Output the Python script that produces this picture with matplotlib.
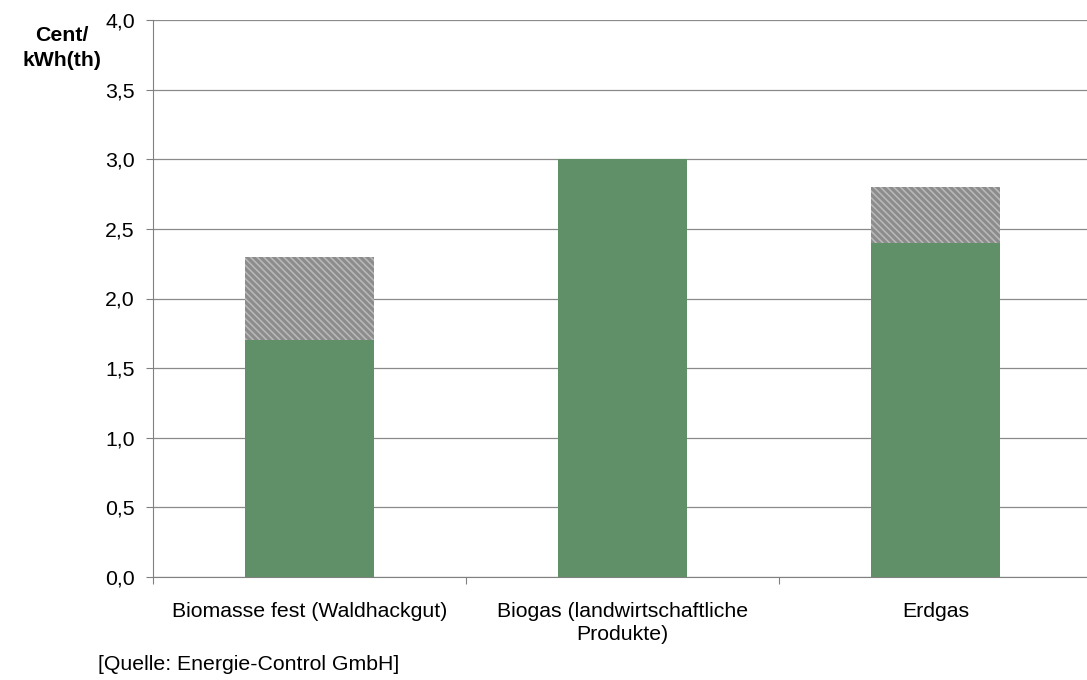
import matplotlib
matplotlib.use("Agg")
import matplotlib.pyplot as plt
import numpy as np

plt.rcParams["font.family"] = ["Liberation Sans", "DejaVu Sans"]
plt.rcParams["hatch.linewidth"] = 1.2

categories = ["Biomasse fest (Waldhackgut)", "Biogas (landwirtschaftliche\nProdukte)", "Erdgas"]
base = [1.7, 3.0, 2.4]
extra = [0.6, 0.0, 0.4]
yticks = np.arange(0, 4.01, 0.5)

GREEN = "#5f9068"
FS = 15.3
fig = plt.figure(figsize=(10.87, 6.8), dpi=100)
ax = fig.add_axes([153 / 1087, 1 - 577 / 680, (1092 - 153) / 1087, (577 - 20) / 680])

x = np.arange(len(categories))
ax.bar(x, base, width=0.41, color=GREEN, zorder=3)
ax.bar(x, extra, bottom=base, width=0.41, color="#8c8c8c", edgecolor="#b8b8b8",
       hatch="\\\\\\\\\\", linewidth=0, zorder=3)

ax.set_xlim(-0.5, 2.5)
ax.set_ylim(0, 4.0)
ax.set_yticks(yticks)
ax.set_yticklabels([f"{v:.1f}".replace(".", ",") for v in yticks], fontsize=FS)
ax.yaxis.grid(True, color="#8a8a8a", linewidth=0.9, zorder=0)
ax.set_xticks([-0.5, 0.5, 1.5, 2.5])
ax.set_xticklabels([])
ax.set_xticks(x, minor=True)
ax.set_xticklabels(categories, minor=True, fontsize=FS, linespacing=1.3)
ax.tick_params(axis="x", which="minor", length=0, pad=18)
ax.tick_params(axis="x", which="major", length=5, color="#808080")
ax.tick_params(axis="y", length=5, color="#808080", pad=8)
for s in ["top", "right"]:
    ax.spines[s].set_visible(False)
for s in ["left", "bottom"]:
    ax.spines[s].set_color("#808080")

fig.text(62 / 1087, 1 - 48 / 680, "Cent/\nkWh(th)", ha="center", va="center",
         fontsize=FS, fontweight="bold", linespacing=1.45)
fig.text(98 / 1087, 1 - 665 / 680, "[Quelle: Energie-Control GmbH]", ha="left", va="center",
         fontsize=FS)

fig.savefig("out.png", dpi=100)
